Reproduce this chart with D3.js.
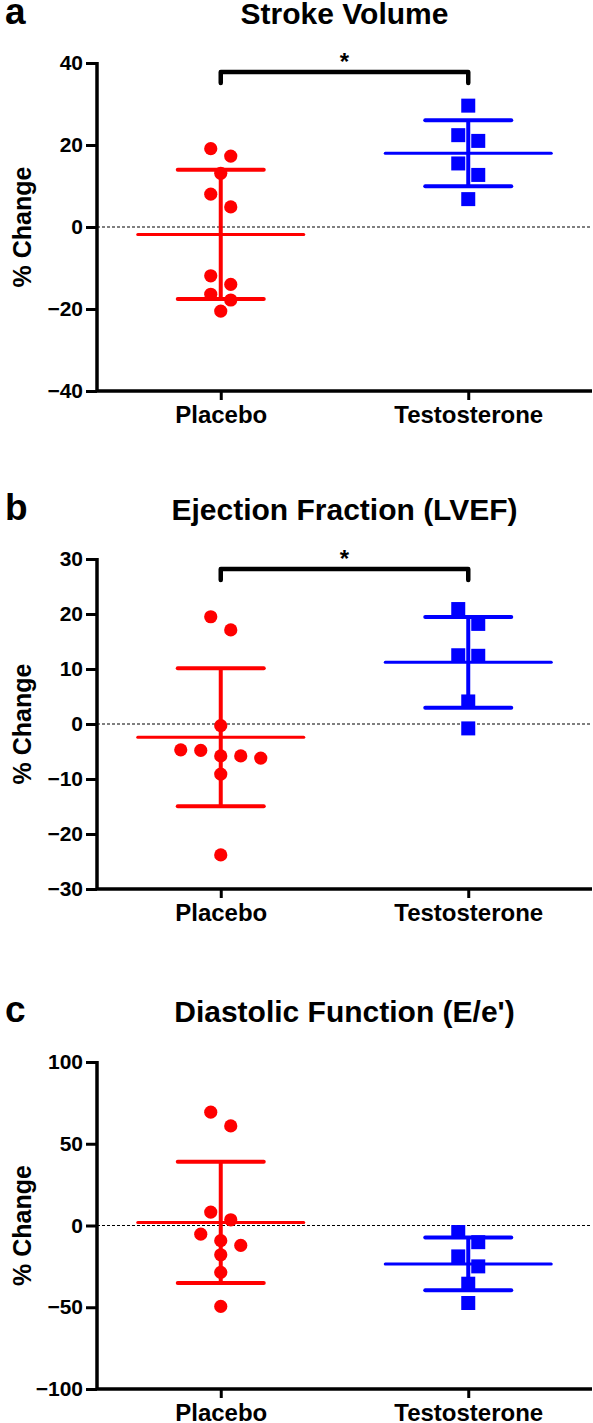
<!DOCTYPE html>
<html>
<head>
<meta charset="utf-8">
<script src="https://cdn.jsdelivr.net/npm/d3@7"></script>
<style>
  html, body { margin: 0; padding: 0; background: #fff; }
  svg { display: block; }
  text { font-family: "Liberation Sans", Arial, sans-serif; font-weight: bold; fill: #000; }
</style>
</head>
<body>
<svg id="chart" width="593" height="1423"></svg>
<script>
// ---------- data ----------
const groups = ["Placebo", "Testosterone"];
const panelLetters = ["a", "b", "c"];
const panelTitles = ["Stroke Volume", "Ejection Fraction (LVEF)", "Diastolic  Function (E/e')"];
const yAxisTitle = "% Change";

const strokePlacebo = [19.1, 17.3, 13.1, 8.0, 4.9, -11.9, -14.0, -16.4, -17.8, -20.5];
const strokeTestosterone = [29.6, 22.4, 21.0, 15.5, 12.7, 6.8];
const strokeTicks = [-40, -20, 0, 20, 40];

const lvefPlacebo = [19.5, 17.1, -0.3, -4.7, -4.8, -5.8, -5.8, -6.2, -9.1, -23.8];
const lvefTestosterone = [20.9, 18.2, 12.4, 12.5, 4.1, -0.8];
const lvefTicks = [-30, -20, -10, 0, 10, 20, 30];

const eePlacebo = [69.3, 60.9, 8.2, 3.5, -5.3, -9.3, -12.2, -17.9, -28.7, -49.5];
const eeTestosterone = [-4.0, -10.2, -18.9, -25.0, -35.6, -47.4];
const eeTicks = [-100, -50, 0, 50, 100];

const significance = [true, true, false];

// ---------- layout ----------
const W = 593;
const axisLeft = 97, axisRight = 592;
const panels = [
  { placebo: strokePlacebo, testo: strokeTestosterone, ticks: strokeTicks, top: 63, bottom: 391, titleY: 24, bracketY: 72 },
  { placebo: lvefPlacebo, testo: lvefTestosterone, ticks: lvefTicks, top: 559, bottom: 889, titleY: 520, bracketY: 569 },
  { placebo: eePlacebo, testo: eeTestosterone, ticks: eeTicks, top: 1062, bottom: 1389, titleY: 1022, bracketY: null }
];
const colors = { Placebo: "#ff0000", Testosterone: "#0000ff" };

const svg = d3.select("#chart");
svg.append("rect").attr("width", W).attr("height", 1423).attr("fill", "#fff");

const x = d3.scalePoint().domain(groups).range([axisLeft, axisRight]).padding(0.5);

// simple row-based dodge (pixel space)
function dodge(vals, y, thresh, step) {
  const idx = vals.map((v, i) => i).sort((a, b) => y(vals[b]) - y(vals[a]) < 0 ? 1 : (y(vals[a]) - y(vals[b])));
  idx.sort((a, b) => y(vals[a]) - y(vals[b]));
  const offs = new Array(vals.length).fill(0);
  let i = 0;
  while (i < idx.length) {
    const start = y(vals[idx[i]]);
    const row = [idx[i]];
    let j = i + 1;
    while (j < idx.length && y(vals[idx[j]]) - start <= thresh) { row.push(idx[j]); j++; }
    const n = row.length;
    row.forEach((k, r) => { offs[k] = (r - (n - 1) / 2) * step; });
    i = j;
  }
  return offs;
}

panels.forEach((p, pi) => {
  const dom = d3.extent(p.ticks);
  const y = d3.scaleLinear().domain(dom).range([p.bottom, p.top]);
  const g = svg.append("g");

  // panel letter & title
  g.append("text").attr("x", 5).attr("y", p.titleY).attr("font-size", 37).text(panelLetters[pi]);
  g.append("text").attr("x", (x("Placebo") + x("Testosterone")) / 2).attr("y", p.titleY)
    .attr("text-anchor", "middle").attr("font-size", 30).text(panelTitles[pi]);

  // zero dashed line
  g.append("line").attr("x1", axisLeft).attr("x2", axisRight).attr("y1", y(0)).attr("y2", y(0))
    .attr("stroke", "#000").attr("stroke-width", 1.2).attr("stroke-dasharray", "3,2");

  // y axis
  const yAxis = d3.axisLeft(y).tickValues(p.ticks).tickSize(11).tickPadding(3).tickFormat(d3.format("d"));
  const ya = g.append("g").attr("transform", `translate(${axisLeft},0)`).call(yAxis);
  ya.select(".domain").attr("stroke", "#000").attr("stroke-width", 3.5).attr("d", `M0,${p.top - 1}V${p.bottom}`);
  ya.selectAll(".tick line").attr("stroke", "#000").attr("stroke-width", 3);
  ya.selectAll(".tick text").attr("font-size", 21).attr("font-family", "Liberation Sans, Arial, sans-serif")
    .attr("font-weight", "bold").attr("fill", "#000");

  // x axis
  const xAxis = d3.axisBottom(x).tickSize(9).tickPadding(6);
  const xa = g.append("g").attr("transform", `translate(0,${p.bottom})`).call(xAxis);
  xa.select(".domain").attr("stroke", "#000").attr("stroke-width", 3.5).attr("d", `M${axisLeft - 1},0H${axisRight}`);
  xa.selectAll(".tick line").attr("stroke", "#000").attr("stroke-width", 3);
  xa.selectAll(".tick text").attr("font-size", 24).attr("font-family", "Liberation Sans, Arial, sans-serif")
    .attr("font-weight", "bold").attr("fill", "#000");

  // y axis title
  g.append("text").attr("transform", `translate(31,${(p.top + p.bottom) / 2}) rotate(-90)`)
    .attr("text-anchor", "middle").attr("font-size", 25).text(yAxisTitle);

  // data
  [["Placebo", p.placebo], ["Testosterone", p.testo]].forEach(([name, vals]) => {
    const cx = x(name);
    const col = colors[name];
    const offs = dodge(vals, y, 15, 20);
    const dg = g.append("g");
    if (name === "Placebo") {
      dg.selectAll("circle").data(vals).join("circle")
        .attr("cx", (d, i) => cx + offs[i]).attr("cy", d => y(d)).attr("r", 6.6).attr("fill", col);
    } else {
      const s = 14;
      dg.selectAll("rect").data(vals).join("rect")
        .attr("x", (d, i) => cx + offs[i] - s / 2).attr("y", d => y(d) - s / 2)
        .attr("width", s).attr("height", s).attr("fill", col);
    }
    const m = d3.mean(vals), sd = d3.deviation(vals);
    // SD bar
    dg.append("line").attr("x1", cx).attr("x2", cx).attr("y1", y(m + sd)).attr("y2", y(m - sd))
      .attr("stroke", col).attr("stroke-width", 4);
    [m + sd, m - sd].forEach(v => {
      dg.append("line").attr("x1", cx - 43).attr("x2", cx + 43).attr("y1", y(v)).attr("y2", y(v))
        .attr("stroke", col).attr("stroke-width", 4).attr("stroke-linecap", "round");
    });
    // mean
    dg.append("line").attr("x1", cx - 83).attr("x2", cx + 83).attr("y1", y(m)).attr("y2", y(m))
      .attr("stroke", col).attr("stroke-width", 3).attr("stroke-linecap", "round");
  });

  // significance bracket
  if (significance[pi]) {
    const x1 = x("Placebo"), x2 = x("Testosterone"), by = p.bracketY;
    g.append("path").attr("d", `M${x1},${by + 11}V${by}H${x2}V${by + 11}`)
      .attr("fill", "none").attr("stroke", "#000").attr("stroke-width", 4.5).attr("stroke-linejoin", "round").attr("stroke-linecap", "round");
    g.append("text").attr("x", (x1 + x2) / 2).attr("y", by - 2).attr("text-anchor", "middle")
      .attr("font-size", 24).text("*");
  }
});
</script>
</body>
</html>
